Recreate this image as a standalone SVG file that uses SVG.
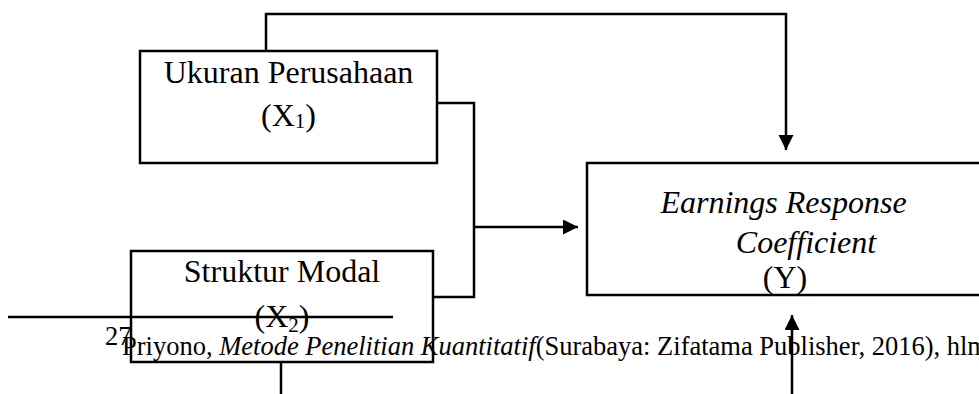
<svg xmlns="http://www.w3.org/2000/svg" width="979" height="394" viewBox="0 0 979 394">
<style>
.box{fill:none;stroke:#000;stroke-width:2.5}
.ln{fill:none;stroke:#000;stroke-width:2.5}
.t{font-family:"Liberation Serif","Times New Roman",serif;font-size:32px;fill:#000;text-anchor:middle}
.i{font-style:italic}
.fn{font-family:"Liberation Serif","Times New Roman",serif;font-size:26.5px;fill:#000}
</style>
<defs>
<marker id="ah" markerUnits="userSpaceOnUse" markerWidth="16" markerHeight="16" refX="15" refY="7.5" orient="auto">
<path d="M0,0 L15,7.5 L0,15 z" fill="#000"/>
</marker>
</defs>
<rect width="979" height="394" fill="#fff"/>
<g id="connectors">
<path class="ln" d="M266,51 V14 H786 V150" marker-end="url(#ah)"/>
<path class="ln" d="M437,103 H474 V297 H433"/>
<path class="ln" d="M474,227 H578" marker-end="url(#ah)"/>
<path class="ln" d="M281,362 V394"/>
<path class="ln" d="M792,394 V315" marker-end="url(#ah)"/>
</g>
<g id="node-x1">
<rect class="box" x="140" y="51" width="297" height="112"/>
<text class="t" x="288.5" y="83">Ukuran Perusahaan</text>
<text class="t" x="288.5" y="126">(X<tspan font-size="21" dy="2">1</tspan><tspan dy="-2">)</tspan></text>
</g>
<g id="node-x2">
<rect class="box" x="131" y="251" width="302" height="111"/>
<text class="t" x="282" y="282">Struktur Modal</text>
<text class="t" x="282" y="327">(X<tspan font-size="21" dy="5">2</tspan><tspan dy="-5">)</tspan></text>
</g>
<g id="node-y">
<rect class="box" x="587" y="163" width="400" height="132"/>
<text class="t i" x="783.5" y="213">Earnings Response</text>
<text class="t i" x="806" y="253">Coefficient</text>
<text class="t" x="785" y="288">(Y)</text>
</g>
<g id="footnote">
<line class="ln" x1="8" y1="317" x2="393" y2="317"/>
<text class="fn" x="105" y="345" font-size="16">27</text>
<text class="fn" x="122" y="355">Priyono, <tspan font-style="italic">Metode Penelitian Kuantitatif</tspan>(Surabaya: Zifatama Publisher, 2016), hlm</text>
</g>
</svg>
